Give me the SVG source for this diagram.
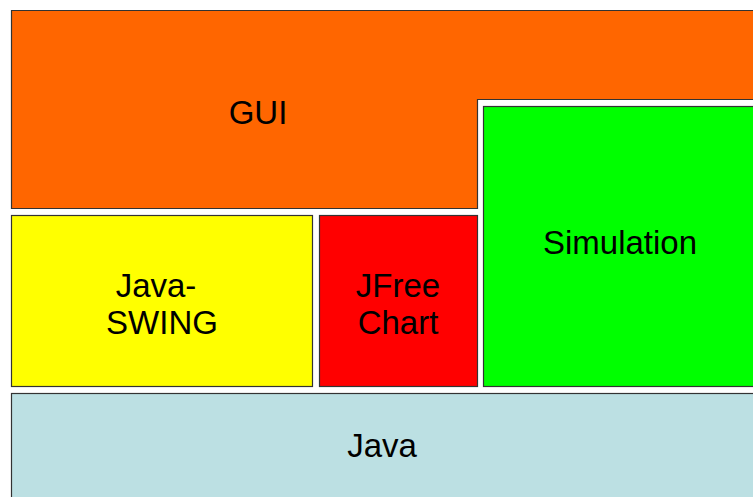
<svg xmlns="http://www.w3.org/2000/svg" width="753" height="497" viewBox="0 0 753 497">
<style>
.b{stroke:#333;stroke-width:1.2}
.t{font-family:"Liberation Sans",Arial,sans-serif;font-size:33px;fill:#000;text-anchor:middle}
</style>
<rect width="753" height="497" fill="#fff"/>
<g id="gui"><path class="b" fill="#ff6600" d="M11.5 10.5H760V99.5H477.5V208.5H11.5Z"/><text class="t" x="258" y="124">GUI</text></g>
<g id="swing"><rect class="b" fill="#ffff00" x="11.5" y="215.5" width="301" height="171"/><text class="t" x="156" y="297">Java-</text><text class="t" x="162" y="334">SWING</text></g>
<g id="jfree"><rect class="b" fill="#ff0000" x="319.5" y="215.5" width="158" height="171"/><text class="t" x="398" y="297">JFree</text><text class="t" x="398" y="334">Chart</text></g>
<g id="sim"><rect class="b" fill="#00ff00" x="483.5" y="106.5" width="280" height="280"/><text class="t" x="620" y="254">Simulation</text></g>
<g id="java"><rect class="b" fill="#bce0e3" x="11.5" y="393.5" width="760" height="120"/><text class="t" x="382" y="457">Java</text></g>
<g id="connectors"/>
</svg>
